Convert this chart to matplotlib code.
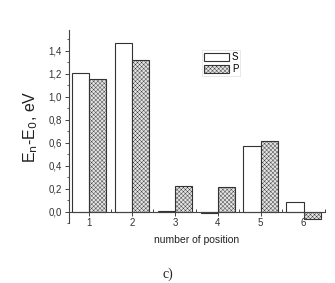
import matplotlib
matplotlib.use("Agg")
import matplotlib.pyplot as plt
import numpy as np
from matplotlib.ticker import MultipleLocator, FuncFormatter

positions = [1, 2, 3, 4, 5, 6]
s_values = [1.21, 1.47, 0.005, -0.01, 0.57, 0.08]
p_values = [1.15, 1.32, 0.22, 0.21, 0.61, -0.065]
series_labels = ["S", "P"]

plt.rcParams['font.family'] = ['Liberation Sans', 'DejaVu Sans']
plt.rcParams['hatch.linewidth'] = 0.3
plt.rcParams['hatch.color'] = '#b4b4b4'

fig = plt.figure(figsize=(3.35, 2.83), dpi=100)
ax = fig.add_axes([0.206, 0.212, 0.764, 0.682])

x = np.array(positions)
width = 0.4
ax.bar(x - width / 2, s_values, width, color='white', edgecolor='#333333',
       linewidth=0.8, label=series_labels[0])
ax.bar(x + width / 2, p_values, width, color='#e4e4e4', edgecolor='#333333',
       linewidth=0.8, hatch='xxxxxxxx', label=series_labels[1])

ax.set_xlim(0.53, 6.5)
ax.set_ylim(-0.1, 1.58)

ax.spines['top'].set_visible(False)
ax.spines['right'].set_visible(False)
ax.spines['bottom'].set_position(('data', 0))
for sp in ('left', 'bottom'):
    ax.spines[sp].set_color('#444444')
    ax.spines[sp].set_linewidth(0.8)

ax.set_xticks(positions)
ax.xaxis.set_minor_locator(MultipleLocator(0.5))
ax.set_yticks(np.arange(0, 1.41, 0.2))
ax.yaxis.set_minor_locator(MultipleLocator(0.1))
ax.yaxis.set_major_formatter(FuncFormatter(lambda v, p: ("%.1f" % v).replace('.', ',')))
ax.tick_params(axis='both', which='major', labelsize=7, length=3, width=0.7,
               color='#444444', labelcolor='#333333', pad=2)
ax.tick_params(axis='y', which='minor', length=1.5, width=0.6, color='#444444')
ax.tick_params(axis='x', which='minor', direction='in', length=2, width=0.7, color='#444444')

ax.set_ylabel(r'E$_\mathrm{n}$-E$_\mathrm{0}$, eV', fontsize=11.5, color='#222222', labelpad=6)
ax.set_xlabel('number of position', fontsize=7.5, color='#222222', labelpad=4)
ax.xaxis.set_label_coords(0.5, -0.06)

leg = ax.legend(loc='upper left', bbox_to_anchor=(0.5, 0.92), fontsize=7,
                handlelength=2.6, handleheight=1.0, handletextpad=0.3,
                labelspacing=0.2, borderpad=0.2, frameon=True, fancybox=False)
leg.get_frame().set_edgecolor('#dddddd')
leg.get_frame().set_linewidth(0.6)

fig.text(0.5, 0.03, 'c)', family='Liberation Serif', fontsize=10, ha='center',
         va='center', color='#222222')

fig.savefig('out.png', dpi=100)
